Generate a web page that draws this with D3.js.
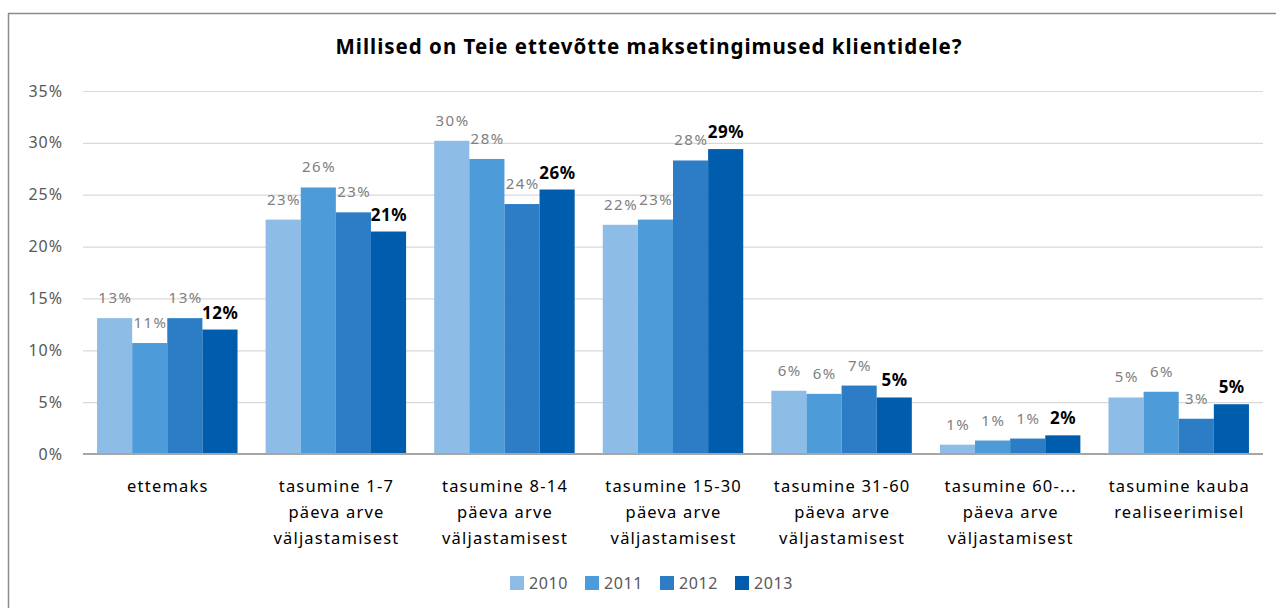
<!DOCTYPE html>
<html><head><meta charset="utf-8">
<script src="https://cdn.jsdelivr.net/npm/d3@7"></script>
<style>
html,body{margin:0;padding:0;background:#fff;}
svg{display:block;font-family:"Noto Sans","Open Sans",sans-serif;}
</style></head>
<body><svg id="chart" width="1276" height="608"></svg>
<script>
const title = "Millised on Teie ettevõtte maksetingimused klientidele?";
const categories = [
  ["ettemaks"],
  ["tasumine 1-7", "päeva arve", "väljastamisest"],
  ["tasumine 8-14", "päeva arve", "väljastamisest"],
  ["tasumine 15-30", "päeva arve", "väljastamisest"],
  ["tasumine 31-60", "päeva arve", "väljastamisest"],
  ["tasumine 60-...", "päeva arve", "väljastamisest"],
  ["tasumine kauba", "realiseerimisel"]
];
const seriesNames = ["2010", "2011", "2012", "2013"];
const values2010 = [13.1, 22.6, 30.2, 22.1, 6.1, 0.9, 5.45];
const values2011 = [10.7, 25.7, 28.45, 22.6, 5.8, 1.3, 6.0];
const values2012 = [13.1, 23.3, 24.1, 28.3, 6.6, 1.49, 3.4];
const values2013 = [12.0, 21.45, 25.5, 29.4, 5.45, 1.8, 4.8];
const yTicks = [0, 5, 10, 15, 20, 25, 30, 35];
const colors = ["#8DBCE6", "#4E9BDA", "#2D7DC6", "#005CAC"];

const series = [values2010, values2011, values2012, values2013];
const svg = d3.select("#chart");

// outer frame (top and left edges visible)
svg.append("line").attr("x1", 8).attr("x2", 1276).attr("y1", 13.5).attr("y2", 13.5)
  .attr("stroke", "#8c8c8c").attr("stroke-width", 1.5);
svg.append("line").attr("x1", 8.5).attr("x2", 8.5).attr("y1", 13).attr("y2", 608)
  .attr("stroke", "#8c8c8c").attr("stroke-width", 1.5);

const x0 = 83, x1 = 1263, yTop = 91, yBot = 454;
const y = d3.scaleLinear().domain([0, 35]).range([yBot, yTop]);
const xg = d3.scaleBand().domain(d3.range(categories.length)).range([x0, x1])
  .paddingInner(1/6).paddingOuter(1/12);
const xs = d3.scaleBand().domain(d3.range(seriesNames.length)).range([0, xg.bandwidth()]);

// title
svg.append("text").attr("x", 649).attr("y", 54).attr("text-anchor", "middle")
  .attr("font-size", 20.5).attr("font-weight", "bold").attr("letter-spacing", 1)
  .attr("fill", "#000").text(title);

// gridlines + y labels
const yAxis = d3.axisLeft(y).tickValues(yTicks).tickFormat(d => d + "%").tickSize(-(x1 - x0)).tickPadding(20);
const ga = svg.append("g").attr("transform", `translate(${x0},0)`).call(yAxis);
ga.select(".domain").remove();
ga.selectAll(".tick line").attr("stroke", "#d9d9d9").attr("stroke-width", 1.2);
ga.selectAll(".tick text").attr("font-size", 16).attr("fill", "#595959").attr("letter-spacing", 1)
  .attr("font-family", "'Noto Sans','Open Sans',sans-serif");

// bars
const groups = svg.append("g").selectAll("g").data(categories).join("g")
  .attr("transform", (d, i) => `translate(${xg(i)},0)`);
series.forEach((vals, s) => {
  groups.append("rect")
    .attr("x", (d, i) => xs(s))
    .attr("y", (d, i) => y(vals[i]))
    .attr("width", xs.bandwidth())
    .attr("height", (d, i) => y(0) - y(vals[i]))
    .attr("fill", colors[s]);
});
series.forEach((vals, s) => {
  groups.append("text")
    .attr("x", (d, i) => xs(s) + xs.bandwidth() / 2 + (s === 3 ? 0.3 : 0.8))
    .attr("y", (d, i) => y(vals[i]) - (s === 3 ? 11 : 15))
    .attr("text-anchor", "middle")
    .attr("font-size", s === 3 ? 17 : 15)
    .attr("letter-spacing", s === 3 ? 0.5 : 1.5)
    .attr("font-weight", s === 3 ? "bold" : "normal")
    .attr("fill", s === 3 ? "#000" : "#808080")
    .text((d, i) => Math.round(vals[i]) + "%");
});

// axis baseline
svg.append("line").attr("x1", x0).attr("x2", x1).attr("y1", yBot).attr("y2", yBot)
  .attr("stroke", "#a6a6a6").attr("stroke-width", 2);

// category labels
groups.each(function(lines, i) {
  const t = d3.select(this).append("text").attr("text-anchor", "middle")
    .attr("font-size", 16.5).attr("letter-spacing", 1.2).attr("fill", "#000");
  lines.forEach((ln, k) => {
    t.append("tspan").attr("x", xg.bandwidth() / 2 + 0.6).attr("y", 492 + k * 26).text(ln);
  });
});

// legend
const legend = svg.append("g");
const legX = [510, 585, 660, 735];
seriesNames.forEach((n, s) => {
  legend.append("rect").attr("x", legX[s]).attr("y", 576).attr("width", 14).attr("height", 14).attr("fill", colors[s]);
  legend.append("text").attr("x", legX[s] + 19).attr("y", 589).attr("font-size", 16)
    .attr("letter-spacing", 0.6).attr("fill", "#595959").text(n);
});
</script></body></html>
